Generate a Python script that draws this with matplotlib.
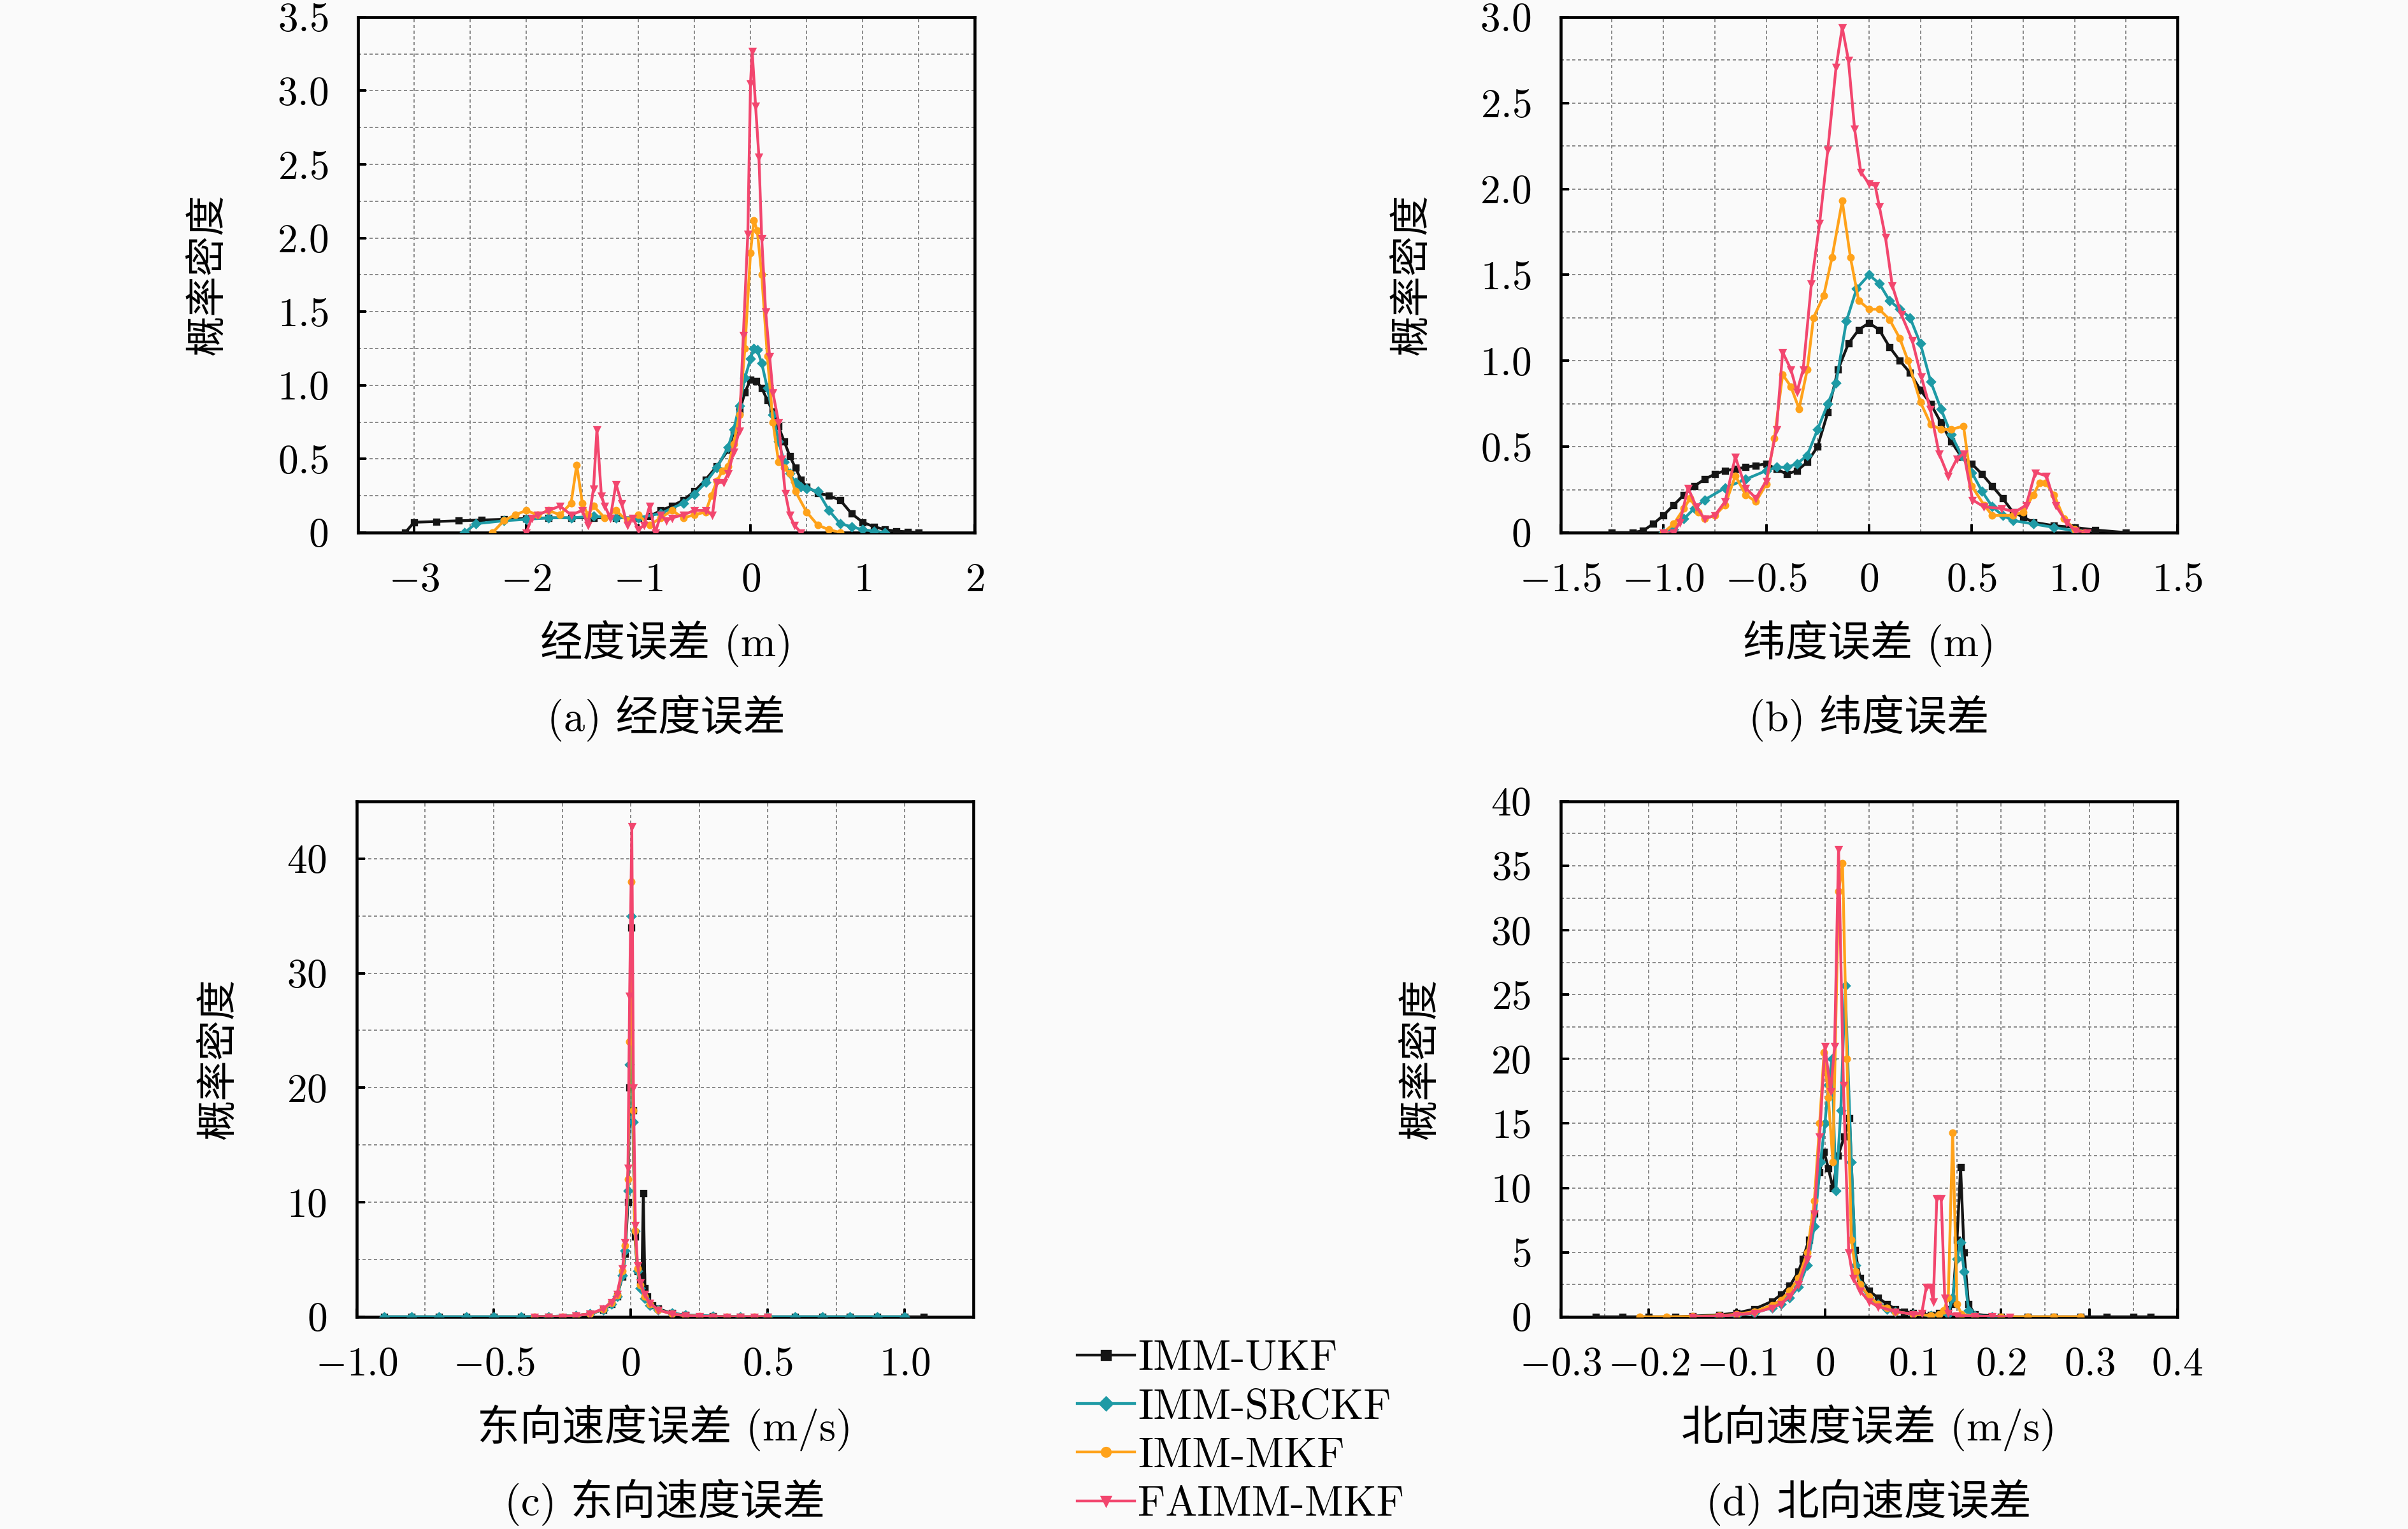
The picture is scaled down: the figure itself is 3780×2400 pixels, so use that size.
import numpy as np
import matplotlib
matplotlib.use("Agg")
import matplotlib.pyplot as plt
from matplotlib.ticker import MultipleLocator, FuncFormatter

plt.rcParams['font.family'] = ['cmr10', 'Noto Sans CJK SC', 'DejaVu Sans']
plt.rcParams['mathtext.fontset'] = 'cm'
plt.rcParams['axes.formatter.use_mathtext'] = True
plt.rcParams['axes.unicode_minus'] = True

names = ['IMM-UKF', 'IMM-SRCKF', 'IMM-MKF', 'FAIMM-MKF']
colors = ['#151515', '#1e9aa5', '#ffa21a', '#f2466e']
markers = ['s', 'D', 'o', 'v']

# ---- (a) 经度误差 ----
a_x_ukf = [-3.08, -3.0, -2.8, -2.6, -2.4, -2.2, -2.0, -1.8, -1.6, -1.4, -1.2, -1.0, -0.9, -0.8, -0.7,
           -0.6, -0.5, -0.4, -0.3, -0.2, -0.15, -0.1, -0.05, 0.0, 0.05, 0.1, 0.15, 0.2, 0.25, 0.3,
           0.35, 0.4, 0.45, 0.5, 0.6, 0.7, 0.8, 0.9, 1.0, 1.1, 1.2, 1.3, 1.4, 1.5]
a_y_ukf = [0.0, 0.07, 0.075, 0.08, 0.085, 0.09, 0.095, 0.1, 0.1, 0.1, 0.1, 0.1, 0.11, 0.15, 0.18,
           0.22, 0.28, 0.36, 0.45, 0.56, 0.68, 0.82, 0.95, 1.04, 1.03, 0.98, 0.9, 0.82, 0.72, 0.62,
           0.52, 0.44, 0.36, 0.31, 0.27, 0.25, 0.22, 0.13, 0.07, 0.04, 0.02, 0.01, 0.005, 0.0]
a_x_srckf = [-2.55, -2.45, -2.2, -2.0, -1.8, -1.6, -1.4, -1.2, -1.0, -0.8, -0.6, -0.5, -0.4, -0.3,
             -0.2, -0.15, -0.1, -0.05, 0.0, 0.03, 0.06, 0.1, 0.15, 0.2, 0.25, 0.3, 0.35, 0.4, 0.45,
             0.5, 0.6, 0.7, 0.8, 0.9, 1.0, 1.1, 1.2]
a_y_srckf = [0.0, 0.06, 0.08, 0.09, 0.1, 0.1, 0.11, 0.1, 0.1, 0.13, 0.2, 0.26, 0.34, 0.44,
             0.58, 0.7, 0.86, 1.05, 1.18, 1.25, 1.24, 1.15, 0.98, 0.8, 0.62, 0.48, 0.4, 0.34, 0.31,
             0.3, 0.28, 0.15, 0.06, 0.04, 0.02, 0.01, 0.0]
a_x_mkf = [-2.3, -2.2, -2.1, -2.0, -1.9, -1.8, -1.7, -1.6, -1.55, -1.5, -1.45, -1.4, -1.3, -1.2,
           -1.1, -1.0, -0.9, -0.8, -0.7, -0.6, -0.5, -0.4, -0.35, -0.3, -0.25, -0.2, -0.15, -0.1,
           -0.05, 0.0, 0.03, 0.06, 0.1, 0.15, 0.2, 0.25, 0.3, 0.35, 0.4, 0.5, 0.6, 0.7, 0.8]
a_y_mkf = [0.0, 0.08, 0.12, 0.15, 0.12, 0.15, 0.12, 0.2, 0.46, 0.2, 0.12, 0.18, 0.1, 0.15,
           0.08, 0.12, 0.05, 0.1, 0.15, 0.1, 0.12, 0.14, 0.25, 0.35, 0.42, 0.45, 0.6, 0.8,
           1.25, 1.9, 2.12, 2.05, 1.75, 1.2, 0.75, 0.48, 0.44, 0.4, 0.28, 0.14, 0.05, 0.02, 0.0]
a_x_fa = [-2.0, -1.95, -1.9, -1.8, -1.7, -1.6, -1.5, -1.45, -1.4, -1.37, -1.33, -1.3, -1.25, -1.2,
          -1.15, -1.1, -1.05, -1.0, -0.95, -0.9, -0.85, -0.8, -0.75, -0.7, -0.6, -0.5, -0.4, -0.34,
          -0.3, -0.24, -0.2, -0.15, -0.1, -0.064, -0.024, 0.0, 0.015, 0.045, 0.075, 0.1, 0.135,
          0.17, 0.2, 0.25, 0.28, 0.31, 0.35, 0.39, 0.45]
a_y_fa = [0.0, 0.1, 0.12, 0.15, 0.18, 0.12, 0.15, 0.05, 0.3, 0.7, 0.25, 0.18, 0.1, 0.33,
          0.2, 0.05, 0.1, 0.02, 0.05, 0.18, 0.0, 0.12, 0.08, 0.1, 0.12, 0.15, 0.15, 0.12,
          0.34, 0.34, 0.4, 0.55, 0.69, 1.34, 2.03, 3.05, 3.27, 2.9, 2.55, 2.0, 1.5,
          1.2, 0.95, 0.75, 0.5, 0.27, 0.12, 0.05, 0.0]

# ---- (b) 纬度误差 ----
b_x_ukf = [-1.25, -1.15, -1.1, -1.05, -1.0, -0.95, -0.9, -0.85, -0.8, -0.75, -0.7, -0.65, -0.6,
           -0.55, -0.5, -0.45, -0.4, -0.35, -0.3, -0.25, -0.2, -0.15, -0.1, -0.05, 0.0, 0.05, 0.1,
           0.15, 0.2, 0.25, 0.3, 0.35, 0.4, 0.45, 0.5, 0.55, 0.6, 0.65, 0.7, 0.75, 0.8, 0.9, 1.0,
           1.1, 1.25]
b_y_ukf = [0.0, 0.0, 0.01, 0.05, 0.1, 0.16, 0.22, 0.27, 0.31, 0.34, 0.36, 0.37, 0.38,
           0.39, 0.4, 0.37, 0.34, 0.36, 0.41, 0.5, 0.7, 0.95, 1.1, 1.18, 1.22, 1.18, 1.08,
           1.0, 0.93, 0.83, 0.75, 0.64, 0.53, 0.44, 0.4, 0.34, 0.27, 0.2, 0.12, 0.09, 0.06, 0.04, 0.03,
           0.015, 0.0]
b_x_srckf = [-1.0, -0.95, -0.9, -0.85, -0.8, -0.7, -0.6, -0.5, -0.45, -0.4, -0.35, -0.3, -0.25,
             -0.2, -0.16, -0.11, -0.06, 0.0, 0.05, 0.1, 0.15, 0.2, 0.25, 0.3, 0.35, 0.4, 0.45, 0.5,
             0.55, 0.6, 0.65, 0.7, 0.8, 0.9, 1.0]
b_y_srckf = [0.0, 0.02, 0.08, 0.14, 0.19, 0.26, 0.31, 0.36, 0.38, 0.38, 0.4, 0.45, 0.6,
             0.75, 0.87, 1.23, 1.42, 1.5, 1.45, 1.35, 1.3, 1.25, 1.1, 0.88, 0.72, 0.57, 0.45, 0.35,
             0.24, 0.15, 0.1, 0.07, 0.05, 0.03, 0.01]
b_x_mkf = [-1.0, -0.95, -0.9, -0.87, -0.83, -0.8, -0.75, -0.7, -0.65, -0.6, -0.55, -0.5, -0.46,
           -0.42, -0.38, -0.34, -0.3, -0.27, -0.22, -0.18, -0.13, -0.09, -0.05, 0.0, 0.05, 0.1,
           0.15, 0.19, 0.25, 0.3, 0.35, 0.4, 0.46, 0.5, 0.56, 0.6, 0.7, 0.75, 0.8, 0.83, 0.86,
           0.9, 0.95, 1.0, 1.05]
b_y_mkf = [0.0, 0.05, 0.14, 0.2, 0.12, 0.08, 0.1, 0.16, 0.33, 0.22, 0.18, 0.28, 0.55,
           0.92, 0.85, 0.72, 0.95, 1.25, 1.38, 1.6, 1.93, 1.6, 1.35, 1.3, 1.3, 1.24,
           1.13, 1.0, 0.76, 0.63, 0.6, 0.6, 0.62, 0.27, 0.16, 0.1, 0.1, 0.12, 0.22, 0.29, 0.29,
           0.22, 0.08, 0.02, 0.0]
b_x_fa = [-1.0, -0.95, -0.92, -0.88, -0.84, -0.8, -0.75, -0.7, -0.65, -0.6, -0.55, -0.5, -0.45,
          -0.42, -0.38, -0.35, -0.32, -0.28, -0.24, -0.2, -0.16, -0.13, -0.1, -0.07, -0.04, 0.0,
          0.03, 0.05, 0.08, 0.113, 0.157, 0.21, 0.254, 0.298, 0.341, 0.385, 0.428, 0.461, 0.504,
          0.559, 0.646, 0.711, 0.765, 0.809, 0.863, 0.907, 0.961, 1.004, 1.059]
b_y_fa = [0.0, 0.0, 0.06, 0.26, 0.15, 0.08, 0.1, 0.18, 0.44, 0.26, 0.2, 0.3, 0.6,
          1.05, 0.95, 0.82, 0.95, 1.45, 1.8, 2.23, 2.71, 2.94, 2.75, 2.35, 2.1, 2.03,
          2.02, 1.9, 1.72, 1.44, 1.27, 1.12, 0.91, 0.72, 0.46, 0.33, 0.43, 0.46, 0.19,
          0.15, 0.14, 0.12, 0.16, 0.35, 0.33, 0.16, 0.06, 0.01, 0.0]

# ---- (c) 东向速度误差 ----
c_x_ukf = [-0.9, -0.8, -0.7, -0.6, -0.5, -0.4, -0.3, -0.2, -0.15, -0.1, -0.07, -0.05, -0.03, -0.02,
           -0.01, -0.004, 0.002, 0.008, 0.015, 0.025, 0.035, 0.041, 0.046, 0.052, 0.06, 0.08, 0.1,
           0.15, 0.2, 0.3, 0.4, 0.5, 0.6, 0.7, 0.8, 0.9, 1.0, 1.07]
c_y_ukf = [0, 0, 0, 0, 0, 0, 0.02, 0.1, 0.25, 0.6, 1.1, 1.8, 3.5, 5.5,
           10, 20, 34, 18, 7, 4, 3.2, 3.5, 10.8, 2.5, 1.8, 1.0, 0.7,
           0.3, 0.15, 0.05, 0, 0, 0, 0, 0, 0, 0, 0]
c_x_srckf = [-0.9, -0.8, -0.7, -0.6, -0.5, -0.4, -0.3, -0.2, -0.15, -0.1, -0.07, -0.05, -0.03,
             -0.02, -0.01, -0.004, 0.002, 0.008, 0.015, 0.025, 0.035, 0.05, 0.07, 0.1, 0.15, 0.2,
             0.3, 0.4, 0.5, 0.6, 0.7, 0.8, 0.9, 1.0]
c_y_srckf = [0, 0, 0, 0, 0, 0, 0.02, 0.1, 0.25, 0.6, 1.1, 1.8, 3.6,
             5.8, 11, 22, 35, 17, 7.5, 4, 2.5, 1.6, 1.0, 0.6, 0.3, 0.15,
             0.05, 0, 0, 0, 0, 0, 0, 0]
c_x_mkf = [-0.35, -0.3, -0.25, -0.2, -0.15, -0.1, -0.07, -0.05, -0.03, -0.02, -0.01, -0.004,
           0.003, 0.009, 0.015, 0.025, 0.035, 0.05, 0.07, 0.1, 0.15, 0.2, 0.25, 0.3, 0.35, 0.4,
           0.45, 0.5]
c_y_mkf = [0, 0, 0.02, 0.1, 0.25, 0.65, 1.2, 1.9, 4.0, 6.2, 12, 24,
           38, 18, 7.5, 4.2, 2.8, 1.8, 1.1, 0.6, 0.25, 0.1, 0.05, 0.02, 0, 0,
           0, 0]
c_x_fa = [-0.35, -0.3, -0.25, -0.2, -0.15, -0.1, -0.07, -0.05, -0.03, -0.02, -0.01, -0.004,
          0.004, 0.01, 0.017, 0.025, 0.035, 0.05, 0.07, 0.1, 0.15, 0.2, 0.25, 0.3, 0.35, 0.4,
          0.45, 0.5]
c_y_fa = [0, 0, 0.02, 0.1, 0.25, 0.7, 1.3, 2.0, 4.2, 6.5, 13, 28,
          42.8, 20, 8, 4.5, 3.0, 2.0, 1.2, 0.6, 0.25, 0.1, 0.05, 0.02, 0, 0,
          0, 0]

# ---- (d) 北向速度误差 ----
d_x_ukf = [-0.26, -0.23, -0.2, -0.17, -0.15, -0.12, -0.1, -0.08, -0.06, -0.05, -0.04, -0.03,
           -0.025, -0.018, -0.012, -0.006, -0.001, 0.004, 0.009, 0.015, 0.022, 0.028, 0.034, 0.04,
           0.05, 0.06, 0.07, 0.08, 0.09, 0.1, 0.11, 0.12, 0.13, 0.14, 0.145, 0.15, 0.154, 0.158,
           0.163, 0.17, 0.2, 0.23, 0.26, 0.29, 0.32, 0.35, 0.37]
d_y_ukf = [0, 0, 0, 0, 0.05, 0.15, 0.3, 0.6, 1.2, 1.7, 2.4, 3.5,
           4.5, 6.0, 8.0, 11.2, 12.8, 11.5, 10.0, 12.5, 14.0, 15.4, 5.2, 3.0,
           2.0, 1.5, 1.0, 0.6, 0.4, 0.3, 0.2, 0.15, 0.3, 0.6, 1.0, 6.0, 11.6, 5.0,
           1.0, 0.2, 0.0, 0, 0, 0, 0, 0, 0]
d_x_srckf = [-0.12, -0.1, -0.08, -0.06, -0.05, -0.04, -0.03, -0.02, -0.012, -0.005, 0.0, 0.004,
             0.008, 0.0125, 0.018, 0.023, 0.03, 0.035, 0.04, 0.05, 0.06, 0.07, 0.08, 0.1, 0.12,
             0.14, 0.145, 0.15, 0.154, 0.158, 0.163, 0.17, 0.19]
d_y_srckf = [0, 0.1, 0.3, 0.7, 1.0, 1.5, 2.3, 4.0, 7.0, 12, 15, 18,
             20, 9.8, 16, 25.7, 12, 4.0, 2.5, 1.5, 1.0, 0.6, 0.4, 0.2, 0.1,
             0.2, 1.5, 4.5, 5.8, 3.5, 0.5, 0.1, 0]
d_x_mkf = [-0.21, -0.18, -0.15, -0.12, -0.1, -0.08, -0.06, -0.05, -0.04, -0.03, -0.02, -0.012,
           -0.006, -0.001, 0.004, 0.009, 0.0155, 0.02, 0.025, 0.03, 0.035, 0.04, 0.05, 0.06, 0.07,
           0.08, 0.1, 0.12, 0.13, 0.135, 0.14, 0.145, 0.15, 0.155, 0.17, 0.2, 0.23, 0.26, 0.29]
d_y_mkf = [0, 0, 0.02, 0.08, 0.2, 0.4, 0.9, 1.3, 2.0, 3.0, 5.0, 9.0,
           15.0, 20.5, 17, 12, 33, 35.2, 20, 6, 3.5, 2.5, 1.6, 1.0, 0.7,
           0.4, 0.2, 0.1, 0.2, 0.5, 1.5, 14.3, 1.0, 0.2, 0.05, 0, 0, 0, 0]
d_x_fa = [-0.15, -0.12, -0.1, -0.08, -0.06, -0.05, -0.04, -0.03, -0.02, -0.012, -0.006, 0.0,
          0.0065, 0.011, 0.0155, 0.021, 0.027, 0.032, 0.04, 0.05, 0.06, 0.08, 0.1, 0.11, 0.115,
          0.12, 0.123, 0.127, 0.132, 0.136, 0.14, 0.15, 0.17, 0.19, 0.21]
d_y_fa = [0, 0.05, 0.15, 0.3, 0.7, 1.0, 1.6, 2.5, 4.5, 8.0, 14, 21,
          17.5, 21, 36.3, 18, 5.0, 3.0, 2.0, 1.2, 0.8, 0.4, 0.2, 0.3, 2.3,
          2.3, 1.2, 9.2, 9.2, 1.5, 0.3, 0.1, 0.05, 0.02, 0]

panels = [
    dict(pos=[0.1487, 0.6517, 0.2561, 0.3371],
         data=[(a_x_ukf, a_y_ukf), (a_x_srckf, a_y_srckf), (a_x_mkf, a_y_mkf), (a_x_fa, a_y_fa)],
         xlim=(-3.5, 2), ylim=(0, 3.5), xmaj=1, xmin=0.5, ymaj=0.5, ymin=0.25, xdec=0, ydec=1,
         xlabel='经度误差 (m)', caption='(a) 经度误差', ylab_x=-0.212),
    dict(pos=[0.6481, 0.6517, 0.2561, 0.3371],
         data=[(b_x_ukf, b_y_ukf), (b_x_srckf, b_y_srckf), (b_x_mkf, b_y_mkf), (b_x_fa, b_y_fa)],
         xlim=(-1.5, 1.5), ylim=(0, 3.0), xmaj=0.5, xmin=0.25, ymaj=0.5, ymin=0.25, xdec=1, ydec=1,
         xlabel='纬度误差 (m)', caption='(b) 纬度误差', ylab_x=-0.21),
    dict(pos=[0.1481, 0.1388, 0.2561, 0.3371],
         data=[(c_x_ukf, c_y_ukf), (c_x_srckf, c_y_srckf), (c_x_mkf, c_y_mkf), (c_x_fa, c_y_fa)],
         xlim=(-1.0, 1.25), ylim=(0, 45), xmaj=0.5, xmin=0.25, ymaj=10, ymin=5, xdec=1, ydec=0,
         xlabel='东向速度误差 (m/s)', caption='(c) 东向速度误差', ylab_x=-0.192),
    dict(pos=[0.6481, 0.1388, 0.2561, 0.3371],
         data=[(d_x_ukf, d_y_ukf), (d_x_srckf, d_y_srckf), (d_x_mkf, d_y_mkf), (d_x_fa, d_y_fa)],
         xlim=(-0.3, 0.4), ylim=(0, 40), xmaj=0.1, xmin=0.05, ymaj=5, ymin=2.5, xdec=1, ydec=0,
         xlabel='北向速度误差 (m/s)', caption='(d) 北向速度误差', ylab_x=-0.195),
]


def make_fmt(dec):
    def f(v, pos):
        if abs(v) < 1e-9:
            return '$0$'
        return '$%.*f$' % (dec, v)
    return FuncFormatter(f)


fs = 19
fs_big = 20
bg = '#fafafa'
fig = plt.figure(figsize=(15.75, 10), dpi=240, facecolor=bg)

handles = []
for p in panels:
    ax = fig.add_axes(p['pos'], facecolor=bg)
    for k, (xs, ys) in enumerate(p['data']):
        ln, = ax.plot(xs, ys, color=colors[k], marker=markers[k], markersize=2.6,
                      linewidth=1.3, zorder=3 + k)
        if len(handles) < 4:
            handles.append(ln)
    ax.set_xlim(*p['xlim'])
    ax.set_ylim(*p['ylim'])
    ax.xaxis.set_major_locator(MultipleLocator(p['xmaj']))
    ax.xaxis.set_minor_locator(MultipleLocator(p['xmin']))
    ax.yaxis.set_major_locator(MultipleLocator(p['ymaj']))
    ax.yaxis.set_minor_locator(MultipleLocator(p['ymin']))
    ax.xaxis.set_major_formatter(make_fmt(p['xdec']))
    ax.yaxis.set_major_formatter(make_fmt(p['ydec']))
    ax.tick_params(which='major', direction='in', length=4, width=1.2, labelsize=fs, pad=14,
                   top=False, right=False)
    ax.tick_params(which='minor', length=0)
    ax.grid(True, which='both', color='#8c8c8c', linestyle=(0, (2.5, 2)), linewidth=0.6, zorder=0)
    ax.set_axisbelow(True)
    for s in ax.spines.values():
        s.set_linewidth(1.4)
    ax.set_ylabel('概率密度', fontsize=fs)
    ax.yaxis.set_label_coords(p['ylab_x'], 0.5)
    ax.set_xlabel(p['xlabel'], fontsize=fs_big)
    ax.xaxis.set_label_coords(0.5, -0.17)
    ax.text(0.5, -0.36, p['caption'], transform=ax.transAxes, ha='center', va='center',
            fontsize=fs_big)

fig.legend(handles, names, loc='upper left', bbox_to_anchor=(0.4385, 0.1375), frameon=False,
           fontsize=fs_big, handlelength=1.35, handletextpad=0.08, labelspacing=0.25,
           borderpad=0, markerscale=1.6)

fig.savefig('out.png', dpi=240, facecolor=bg)
